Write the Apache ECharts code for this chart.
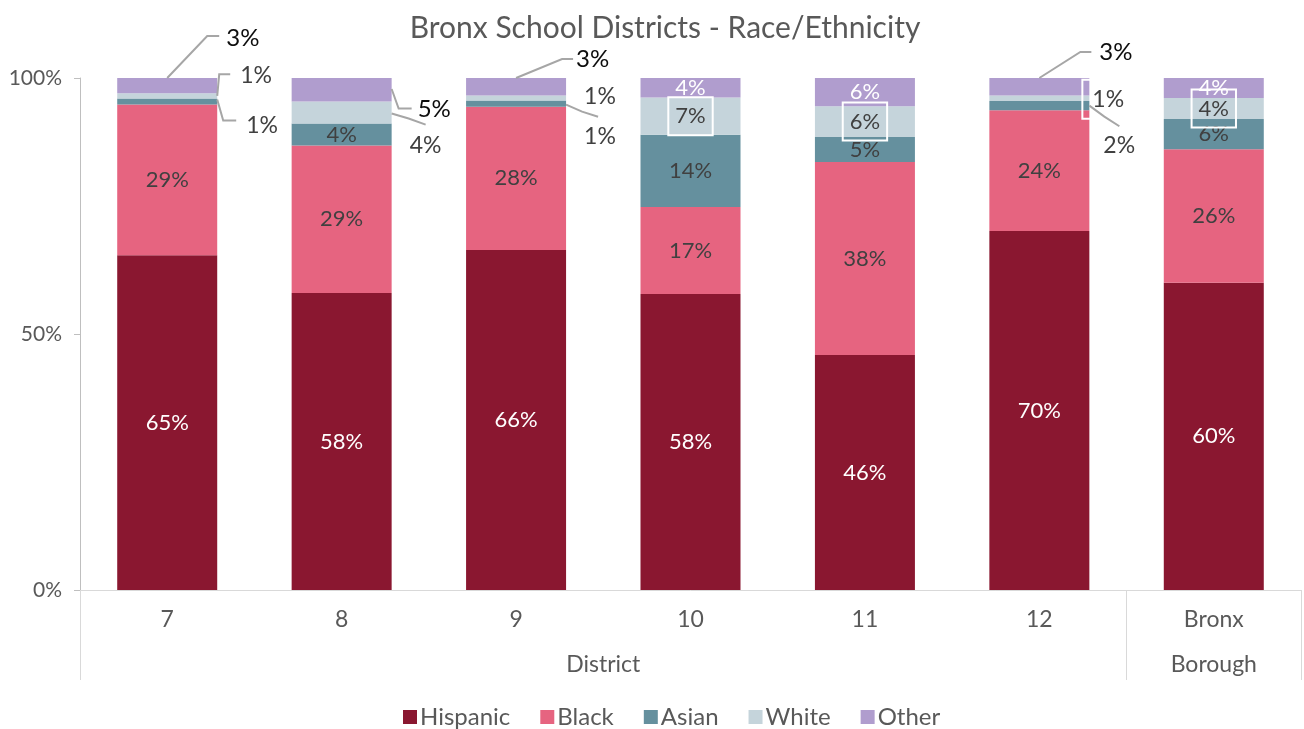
<!DOCTYPE html>
<html><head><meta charset="utf-8">
<script src="https://cdn.jsdelivr.net/npm/echarts@6/dist/echarts.min.js"></script>
<style>html,body{margin:0;padding:0;background:#fff}#c{width:1304px;height:729px}</style>
</head><body><div id="c"></div>
<script>
const categories = ['7', '8', '9', '10', '11', '12', 'Bronx'];
const groups = [{ name: 'District', span: 6 }, { name: 'Borough', span: 1 }];
const seriesNames = ['Hispanic', 'Black', 'Asian', 'White', 'Other'];
const hispanic = [65.4, 58.0, 66.4, 57.8, 45.9, 70.1, 60.0];
const black    = [29.4, 28.8, 28.0, 17.0, 37.7, 23.6, 26.1];
const asian    = [1.2, 4.3, 1.2, 14.1, 4.9, 1.8, 5.9];
const white    = [1.0, 4.3, 1.0, 7.3, 6.0, 1.1, 4.1];
const other    = [3.0, 4.6, 3.4, 3.8, 5.5, 3.4, 3.9];
const yTicks = [0, 50, 100];

const values = [hispanic, black, asian, white, other];
const colors = ['#8A1730', '#E66480', '#65909E', '#C5D4DB', '#B09DCE'];
const labelColors = ['#ffffff', '#404040', '#404040', '#404040', '#ffffff'];
const FONT = 'Lato, "Open Sans", sans-serif';
const BAR_W = 100;

// callout placements, relative to the segment rectangle the library computes
const R = r => r.x + r.width, CX = r => r.x + r.width / 2, MID = r => r.y + r.height / 2, BOT = r => r.y + r.height;
const callouts = {
  '4,0': { strong: true, place: r => ({ x: R(r) + 9, y: r.y - 40 }),
           line: r => [[CX(r), r.y], [R(r) - 10, r.y - 42], [R(r) + 2, r.y - 42]] },
  '3,0': { place: r => ({ x: R(r) + 23, y: r.y - 18 }),
           line: r => [[R(r), MID(r)], [R(r) + 2, r.y - 19], [R(r) + 13, r.y - 19]] },
  '2,0': { place: r => ({ x: R(r) + 29, y: BOT(r) + 21 }),
           line: r => [[R(r), r.y + 1], [R(r) + 6, BOT(r) + 16], [R(r) + 19, BOT(r) + 16]] },
  '4,1': { strong: true, place: r => ({ x: R(r) + 26, y: BOT(r) + 8 }),
           line: r => [[R(r), r.y + 11], [R(r) + 7, BOT(r) + 7], [R(r) + 20, BOT(r) + 7]] },
  '3,1': { place: r => ({ x: R(r) + 18, y: BOT(r) + 22 }),
           line: r => [[R(r), MID(r) + 1], [R(r) + 17, MID(r) + 6], [R(r) + 34, BOT(r) + 1]] },
  '4,2': { strong: true, place: r => ({ x: R(r) + 10, y: r.y - 19 }),
           line: r => [[CX(r), r.y], [R(r) - 4, r.y - 19], [R(r) + 7, r.y - 19]] },
  '3,2': { place: r => ({ x: R(r) + 18, y: MID(r) - 1 }) },
  '2,2': { place: r => ({ x: R(r) + 18, y: BOT(r) + 30 }),
           line: r => [[R(r), MID(r) + 1], [R(r) + 16, BOT(r) + 5], [R(r) + 32, BOT(r) + 10]] },
  '4,5': { strong: true, place: r => ({ x: R(r) + 10, y: r.y - 26 }),
           line: r => [[CX(r), r.y], [R(r) - 9, r.y - 26], [R(r) + 2, r.y - 26]] },
  '3,5': { boxed: true, place: r => ({ x: R(r) - 7, y: MID(r) + 1 }) },
  '2,5': { place: r => ({ x: R(r) + 14, y: BOT(r) + 35 }),
           line: r => [[R(r), MID(r)], [R(r) + 15, MID(r) + 11], [R(r) + 30, BOT(r) + 16]] }
};
const boxedInside = { '3,3': true, '3,4': true, '3,6': true };

function buildData(s) {
  return values[s].map((v, d) => {
    const key = s + ',' + d;
    const item = { value: v };
    const c = callouts[key];
    if (c) {
      item.label = { color: c.strong ? '#0D0D0D' : '#404040', fontSize: c.strong ? 24 : 23 };
      if (c.boxed) {
        item.label.borderColor = '#ffffff';
        item.label.borderWidth = 2;
        item.label.padding = [8, 6, 8, 10];
      }
    } else if (boxedInside[key]) {
      item.label = { borderColor: '#ffffff', borderWidth: 2, padding: [8, 7, 8, 7] };
    }
    return item;
  });
}

// segment rectangle from the stacked data, through the library's coordinate system
function segRect(api, s, d) {
  let base = 0;
  for (let k = 0; k < s; k++) base += values[k][d];
  const top = api.coord([d, base + values[s][d]]);
  const bot = api.coord([d, base]);
  return { x: top[0] - BAR_W / 2, y: top[1], width: BAR_W, height: bot[1] - top[1] };
}
const leaderKeys = Object.keys(callouts).filter(k => callouts[k].line).map(k => k.split(',').map(Number));

// second-level axis (group labels and separators) on a half-category grid
const halfData = [];
const boundaries = [0];
let pos = 0;
for (let i = 0; i < categories.length * 2 + 1; i++) halfData.push('');
groups.forEach(g => {
  halfData[pos * 2 + g.span] = g.name;
  pos += g.span;
  boundaries.push(pos * 2);
});

const barSeries = seriesNames.map((name, s) => ({
  name, type: 'bar', stack: 'total', barWidth: BAR_W,
  itemStyle: { color: colors[s] },
  label: {
    show: true, position: 'inside', fontFamily: FONT, fontSize: 22, color: labelColors[s],
    formatter: p => Math.round(p.value) + '%'
  },
  labelLayout: (p) => {
    const c = callouts[p.seriesIndex + ',' + p.dataIndex];
    if (!c) return {};
    const pl = c.place(p.rect);
    return { x: pl.x, y: pl.y, align: 'left', verticalAlign: 'middle' };
  },
  data: buildData(s)
}));

const leaderSeries = {
  name: 'leaders', type: 'custom', silent: true, clip: false, z: 3,
  data: leaderKeys.map(([s, d]) => [d, s]),
  encode: { x: 0, y: -1 },
  renderItem: (params, api) => {
    const d = api.value(0), s = api.value(1);
    const pts = callouts[s + ',' + d].line(segRect(api, s, d));
    return { type: 'polyline', shape: { points: pts },
      style: { stroke: '#A6A6A6', lineWidth: 2, fill: null } };
  }
};

const option = {
  animation: false,
  backgroundColor: '#ffffff',
  textStyle: { fontFamily: FONT },
  title: {
    text: 'Bronx School Districts - Race/Ethnicity',
    left: 660, textAlign: 'center', top: 8,
    textStyle: { fontFamily: FONT, fontSize: 30, fontWeight: 'normal', color: '#595959' }
  },
  legend: {
    data: seriesNames,
    left: 398, top: 700,
    icon: 'rect', itemWidth: 14, itemHeight: 14, itemGap: 30,
    textStyle: { fontFamily: FONT, fontSize: 24, color: '#595959', padding: [0, 0, 0, -2] }
  },
  grid: { left: 80, right: 1, top: 78, bottom: 139 },
  xAxis: [
    {
      type: 'category', data: categories,
      axisLine: { show: true, lineStyle: { color: '#D9D9D9', width: 1 } },
      axisTick: { show: false },
      axisLabel: { fontFamily: FONT, fontSize: 23, color: '#595959', margin: 18 }
    },
    {
      type: 'category', data: halfData, boundaryGap: false, position: 'bottom',
      axisLine: { show: false },
      axisTick: { show: true, length: 90, interval: (i) => boundaries.indexOf(i) >= 0,
        lineStyle: { color: '#D9D9D9', width: 1 } },
      axisLabel: { interval: 0, fontFamily: FONT, fontSize: 23, color: '#595959', margin: 63 }
    }
  ],
  yAxis: {
    type: 'value', min: 0, max: 100, interval: 50,
    axisLine: { show: true, lineStyle: { color: '#BFBFBF' } },
    axisTick: { show: true, length: 6, lineStyle: { color: '#BFBFBF' } },
    splitLine: { show: false },
    axisLabel: { formatter: v => yTicks.indexOf(v) >= 0 ? v + '%' : '', fontFamily: FONT, fontSize: 21, color: '#595959', margin: 18 }
  },
  series: barSeries.concat([leaderSeries])
};

const chart = echarts.init(document.getElementById('c'), null, { renderer: 'canvas' });
chart.setOption(option);
</script></body></html>
